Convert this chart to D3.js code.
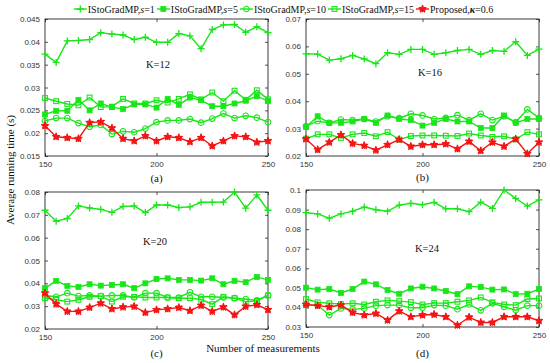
<!DOCTYPE html>
<html>
<head>
<meta charset="utf-8">
<script src="https://cdn.jsdelivr.net/npm/d3@7"></script>
<style>
body { margin: 0; background: #fff; }
svg text { font-family: "Liberation Serif", "Times New Roman", serif; fill: #111; }
.tick text { font-family: "Liberation Sans", Arial, sans-serif; font-size: 8px; fill: #333; }
</style>
</head>
<body>
<svg id="chart" width="550" height="363"></svg>
<script>
// ------------- DATA ------------- //
var measurements = [150, 155, 160, 165, 170, 175, 180, 185, 190, 195, 200, 205, 210, 215, 220, 225, 230, 235, 240, 245, 250];
var xTicks = [150, 200, 250];

// (a) K=12
var a_s1 = [0.0373, 0.0355, 0.0402, 0.0403, 0.0405, 0.0420, 0.0417, 0.0415, 0.0405, 0.0410, 0.0399, 0.0399, 0.0418, 0.0413, 0.0385, 0.0427, 0.0437, 0.0438, 0.0421, 0.0433, 0.0420];
var a_s5 = [0.0241, 0.0249, 0.0249, 0.0273, 0.0250, 0.0265, 0.0257, 0.0253, 0.0263, 0.0263, 0.0256, 0.0275, 0.0262, 0.0278, 0.0272, 0.0259, 0.0259, 0.0265, 0.0271, 0.0281, 0.0270];
var a_s10 = [0.0227, 0.0233, 0.0233, 0.0222, 0.0214, 0.0218, 0.0198, 0.0204, 0.0202, 0.0210, 0.0224, 0.0228, 0.0228, 0.0231, 0.0223, 0.0232, 0.0243, 0.0233, 0.0238, 0.0234, 0.0224];
var a_s15 = [0.0277, 0.0270, 0.0264, 0.0261, 0.0278, 0.0257, 0.0258, 0.0275, 0.0265, 0.0265, 0.0272, 0.0267, 0.0275, 0.0285, 0.0274, 0.0289, 0.0270, 0.0293, 0.0273, 0.0294, 0.0274];
var a_prop = [0.0216, 0.0192, 0.0190, 0.0188, 0.0223, 0.0225, 0.0211, 0.0188, 0.0183, 0.0194, 0.0183, 0.0192, 0.0190, 0.0181, 0.0190, 0.0172, 0.0183, 0.0194, 0.0192, 0.0180, 0.0183];
var a_ticks = [0.015, 0.02, 0.025, 0.03, 0.035, 0.04, 0.045];

// (b) K=16
var b_s1 = [0.0573, 0.0572, 0.0550, 0.0555, 0.0567, 0.0554, 0.0537, 0.0577, 0.0571, 0.0589, 0.0589, 0.0571, 0.0577, 0.0585, 0.0589, 0.0571, 0.0585, 0.0582, 0.0617, 0.0567, 0.0590];
var b_s5 = [0.0306, 0.0345, 0.0321, 0.0321, 0.0326, 0.0335, 0.0321, 0.0348, 0.0335, 0.0331, 0.0311, 0.0321, 0.0335, 0.0326, 0.0326, 0.0302, 0.0302, 0.0348, 0.0321, 0.0335, 0.0335];
var b_s10 = [0.0309, 0.0327, 0.0321, 0.0333, 0.0331, 0.0335, 0.0326, 0.0345, 0.0338, 0.0354, 0.0348, 0.0335, 0.0339, 0.0349, 0.0331, 0.0354, 0.0331, 0.0345, 0.0324, 0.0370, 0.0339];
var b_s15 = [0.0263, 0.0279, 0.0279, 0.0266, 0.0279, 0.0284, 0.0272, 0.0287, 0.0260, 0.0273, 0.0275, 0.0275, 0.0274, 0.0273, 0.0282, 0.0275, 0.0270, 0.0272, 0.0261, 0.0287, 0.0279];
var b_prop = [0.0262, 0.0223, 0.0250, 0.0277, 0.0246, 0.0238, 0.0221, 0.0241, 0.0260, 0.0235, 0.0241, 0.0241, 0.0244, 0.0226, 0.0253, 0.0219, 0.0250, 0.0235, 0.0262, 0.0208, 0.0250];
var b_ticks = [0.02, 0.03, 0.04, 0.05, 0.06, 0.07];

// (c) K=20
var c_s1 = [0.0720, 0.0672, 0.0684, 0.0739, 0.0730, 0.0724, 0.0711, 0.0737, 0.0739, 0.0710, 0.0743, 0.0743, 0.0732, 0.0735, 0.0755, 0.0755, 0.0756, 0.0800, 0.0729, 0.0787, 0.0720];
var c_s5 = [0.0379, 0.0411, 0.0389, 0.0384, 0.0396, 0.0390, 0.0393, 0.0396, 0.0379, 0.0400, 0.0419, 0.0422, 0.0415, 0.0415, 0.0412, 0.0422, 0.0396, 0.0411, 0.0405, 0.0428, 0.0415];
var c_s10 = [0.0347, 0.0341, 0.0357, 0.0344, 0.0347, 0.0344, 0.0347, 0.0347, 0.0338, 0.0357, 0.0357, 0.0338, 0.0338, 0.0361, 0.0341, 0.0341, 0.0338, 0.0335, 0.0331, 0.0326, 0.0347];
var c_s15 = [0.0335, 0.0328, 0.0320, 0.0328, 0.0341, 0.0344, 0.0320, 0.0341, 0.0341, 0.0338, 0.0338, 0.0338, 0.0335, 0.0335, 0.0329, 0.0309, 0.0341, 0.0335, 0.0320, 0.0323, 0.0347];
var c_prop = [0.0357, 0.0309, 0.0277, 0.0277, 0.0294, 0.0313, 0.0288, 0.0296, 0.0299, 0.0272, 0.0284, 0.0288, 0.0294, 0.0280, 0.0303, 0.0277, 0.0296, 0.0262, 0.0299, 0.0306, 0.0284];
var c_ticks = [0.02, 0.03, 0.04, 0.05, 0.06, 0.07, 0.08];

// (d) K=24
var d_s1 = [0.0884, 0.0878, 0.0856, 0.0878, 0.0892, 0.0913, 0.0899, 0.0892, 0.0923, 0.0932, 0.0925, 0.0937, 0.0904, 0.0904, 0.0889, 0.0938, 0.0906, 0.1000, 0.0957, 0.0918, 0.0950];
var d_s5 = [0.0501, 0.0491, 0.0494, 0.0474, 0.0494, 0.0532, 0.0518, 0.0489, 0.0470, 0.0497, 0.0506, 0.0497, 0.0484, 0.0468, 0.0508, 0.0504, 0.0491, 0.0492, 0.0468, 0.0470, 0.0494];
var d_s10 = [0.0412, 0.0412, 0.0361, 0.0395, 0.0390, 0.0395, 0.0409, 0.0412, 0.0412, 0.0398, 0.0398, 0.0412, 0.0409, 0.0391, 0.0415, 0.0385, 0.0421, 0.0403, 0.0386, 0.0409, 0.0409];
var d_s15 = [0.0443, 0.0426, 0.0421, 0.0417, 0.0421, 0.0415, 0.0429, 0.0436, 0.0432, 0.0427, 0.0415, 0.0422, 0.0422, 0.0429, 0.0436, 0.0451, 0.0426, 0.0415, 0.0412, 0.0443, 0.0446];
var d_prop = [0.0415, 0.0409, 0.0402, 0.0412, 0.0374, 0.0361, 0.0369, 0.0335, 0.0381, 0.0352, 0.0361, 0.0364, 0.0352, 0.0309, 0.0350, 0.0323, 0.0323, 0.0352, 0.0352, 0.0352, 0.0332];
var d_ticks = [0.03, 0.04, 0.05, 0.06, 0.07, 0.08, 0.09, 0.1];

// legend: [main text, italic part, value]
var legendLabels = [
  ["IStoGradMP,", "s", "=1"],
  ["IStoGradMP,", "s", "=5"],
  ["IStoGradMP,", "s", "=10"],
  ["IStoGradMP,", "s", "=15"],
  ["Proposed,", "\u03BA", "=0.6"]
];
var markerTypes = ["plus", "fsquare", "circle", "osquare", "star"];


// ------------- LAYOUT ------------- //
var green = "#19e619";
var red = "#f51414";
var axisColor = "#262626";

var panels = [
  { x: 45, y: 19, w: 223, h: 137, ticks: a_ticks, series: [a_s1, a_s5, a_s10, a_s15, a_prop], k: "K=12", kx: 158, ky: 68, tag: "(a)", tagY: 182 },
  { x: 306, y: 19, w: 233, h: 137, ticks: b_ticks, series: [b_s1, b_s5, b_s10, b_s15, b_prop], k: "K=16", kx: 430, ky: 76, tag: "(b)", tagY: 181 },
  { x: 45, y: 192, w: 223, h: 137, ticks: c_ticks, series: [c_s1, c_s5, c_s10, c_s15, c_prop], k: "K=20", kx: 155, ky: 245, tag: "(c)", tagY: 357 },
  { x: 306, y: 190, w: 233, h: 137, ticks: d_ticks, series: [d_s1, d_s5, d_s10, d_s15, d_prop], k: "K=24", kx: 427, ky: 252, tag: "(d)", tagY: 357 }
];

var svg = d3.select("#chart");
var fmt = function(v) { return String(+v.toFixed(3)); };


// ------------- MARKERS ------------- //
function drawMarker(g, type, color) {
  if (type == "plus") {
    g.append("path").attr("d", "M-3.5,0H3.5M0,-3.5V3.5")
      .attr("stroke", color).attr("stroke-width", 1.3).attr("fill", "none");
  } else if (type == "fsquare") {
    g.append("rect").attr("x", -2.5).attr("y", -2.5).attr("width", 5).attr("height", 5)
      .attr("fill", color).attr("stroke", color).attr("stroke-width", 0.8);
  } else if (type == "circle") {
    g.append("circle").attr("r", 2.8)
      .attr("fill", "none").attr("stroke", color).attr("stroke-width", 1.1);
  } else if (type == "osquare") {
    g.append("rect").attr("x", -2.4).attr("y", -2.4).attr("width", 4.8).attr("height", 4.8)
      .attr("fill", "none").attr("stroke", color).attr("stroke-width", 1.1);
  } else {
    // hexagram-ish: filled star plus a short asterisk
    g.append("path").attr("d", d3.symbol().type(d3.symbolStar).size(18)())
      .attr("fill", color).attr("stroke", color).attr("stroke-width", 1);
    g.append("path").attr("d", d3.symbol().type(d3.symbolAsterisk).size(30)())
      .attr("stroke", color).attr("stroke-width", 1.2);
  }
}


// ------------- PANELS ------------- //
function drawPanel(p) {
  var g = svg.append("g").attr("transform", "translate(" + p.x + "," + p.y + ")");
  var x = d3.scaleLinear().domain([150, 250]).range([0, p.w]);
  var y = d3.scaleLinear().domain([p.ticks[0], p.ticks[p.ticks.length - 1]]).range([p.h, 0]);

  // axes with inward ticks (matlab style)
  g.append("g").attr("class", "axis").attr("transform", "translate(0," + p.h + ")")
    .call(d3.axisBottom(x).tickValues(xTicks).tickSizeInner(-3).tickSizeOuter(0).tickPadding(5));
  g.append("g").attr("class", "axis")
    .call(d3.axisTop(x).tickValues(xTicks).tickSizeInner(-3).tickSizeOuter(0).tickFormat(""));
  g.append("g").attr("class", "axis")
    .call(d3.axisLeft(y).tickValues(p.ticks).tickSizeInner(-3).tickSizeOuter(0).tickPadding(5).tickFormat(fmt));
  g.append("g").attr("class", "axis").attr("transform", "translate(" + p.w + ",0)")
    .call(d3.axisRight(y).tickValues(p.ticks).tickSizeInner(-3).tickSizeOuter(0).tickFormat(""));
  g.selectAll(".axis .domain").remove();
  g.selectAll(".axis line").attr("stroke", axisColor).attr("stroke-width", 0.8);

  g.append("rect").attr("width", p.w).attr("height", p.h)
    .attr("fill", "none").attr("stroke", axisColor).attr("stroke-width", 0.9);

  var line = d3.line()
    .x(function(d, i) { return x(measurements[i]); })
    .y(function(d) { return y(d); });

  // order: s=1, s=5, s=10, s=15, proposed on top
  p.series.forEach(function(vals, si) {
    var color = si == 4 ? red : green;
    g.append("path").attr("d", line(vals))
      .attr("fill", "none").attr("stroke", color).attr("stroke-width", 1.4);
    vals.forEach(function(v, i) {
      var m = g.append("g").attr("transform", "translate(" + x(measurements[i]) + "," + y(v) + ")");
      drawMarker(m, markerTypes[si], color);
    });
  });

  svg.append("text").attr("x", p.kx).attr("y", p.ky)
    .attr("text-anchor", "middle").attr("font-size", 10.5).text(p.k);
  svg.append("text").attr("x", p.x + p.w / 2).attr("y", p.tagY)
    .attr("text-anchor", "middle").attr("font-size", 11).text(p.tag);
}

panels.forEach(drawPanel);


// ------------- LABELS ------------- //
svg.append("text").attr("transform", "translate(14,170) rotate(-90)")
  .attr("text-anchor", "middle").attr("font-size", 11).text("Average running time (s)");
svg.append("text").attr("x", 263).attr("y", 352)
  .attr("text-anchor", "middle").attr("font-size", 11).text("Number of measurements");


// ------------- LEGEND ------------- //
var legend = svg.append("g");
var cursor = 0;
legendLabels.forEach(function(lab, i) {
  var color = i == 4 ? red : green;
  var item = legend.append("g").attr("transform", "translate(" + cursor + ",0)");
  item.append("line").attr("x1", 0).attr("x2", 13).attr("y1", 0).attr("y2", 0)
    .attr("stroke", color).attr("stroke-width", 1.4);
  drawMarker(item.append("g").attr("transform", "translate(6.5,0)"), markerTypes[i], color);
  var t = item.append("text").attr("x", 14).attr("y", 3.5).attr("font-size", 10);
  t.append("tspan").text(lab[0]);
  t.append("tspan").attr("font-style", "italic").attr("font-weight", i == 4 ? "bold" : "normal").text(lab[1]);
  t.append("tspan").text(lab[2]);
  cursor += 14 + t.node().getComputedTextLength() + 2;
});
legend.attr("transform", "translate(" + (284.5 - cursor / 2) + ",9)");
</script>
</body>
</html>
